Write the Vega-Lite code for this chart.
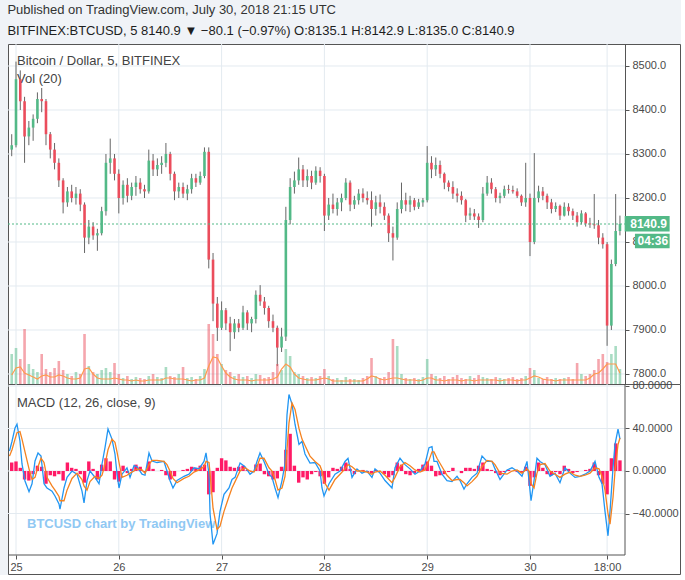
{
"$schema": "https://vega.github.io/schema/vega-lite/v6.json",
"background": "#f0f3f7",
"padding": {"left": 6, "top": 4, "right": 0, "bottom": 0},
"bounds": "flush",
"title": {
  "text": "Published on TradingView.com, July 30, 2018 21:15 UTC",
  "subtitle": "BITFINEX:BTCUSD, 5 8140.9 ▼ −80.1 (−0.97%) O:8135.1 H:8142.9 L:8135.0 C:8140.9",
  "anchor": "start", "font": "Liberation Sans", "fontSize": 13, "fontWeight": "normal", "color": "#333333",
  "subtitleFont": "Liberation Sans", "subtitleFontSize": 13, "subtitleColor": "#1e1e1e", "subtitlePadding": 8,
  "offset": 5, "dx": 1
},
"config": {
  "font": "Liberation Sans",
  "view": {"stroke": "#555555", "strokeWidth": 1, "fill": "#ffffff"},
  "scale": {"continuousPadding": 0},
  "axis": {"labelFont": "Liberation Sans", "labelFontSize": 11, "labelColor": "#4a4a4a", "tickColor": "#555555", "tickSize": 4, "domainColor": "#555555", "grid": false, "labelPadding": 3, "labelFlush": false, "title": null}
},
"datasets": {
"c": [
{"h":-1,"o":8310,"hi":8345,"lo":8295,"c":8320,"v":300,"va":90,"d":8},
{"h":0,"o":8320,"hi":8510,"lo":8315,"c":8470,"v":360,"va":160,"d":9},
{"h":1,"o":8470,"hi":8490,"lo":8400,"c":8420,"v":250,"va":170,"d":3},
{"h":2,"o":8420,"hi":8430,"lo":8280,"c":8340,"v":550,"va":110,"d":-8},
{"h":3,"o":8340,"hi":8375,"lo":8320,"c":8360,"v":200,"va":90,"d":-9},
{"h":4,"o":8360,"hi":8390,"lo":8330,"c":8380,"v":150,"va":70,"d":-3},
{"h":5,"o":8380,"hi":8440,"lo":8370,"c":8425,"v":120,"va":50,"d":5},
{"h":6,"o":8425,"hi":8450,"lo":8395,"c":8420,"v":300,"va":80,"d":4},
{"h":7,"o":8420,"hi":8425,"lo":8320,"c":8345,"v":150,"va":90,"d":-12},
{"h":8,"o":8345,"hi":8350,"lo":8290,"c":8310,"v":120,"va":70,"d":-4},
{"h":9,"o":8310,"hi":8325,"lo":8265,"c":8280,"v":160,"va":70,"d":-5},
{"h":10,"o":8280,"hi":8290,"lo":8225,"c":8240,"v":230,"va":90,"d":-3},
{"h":11,"o":8240,"hi":8245,"lo":8165,"c":8190,"v":140,"va":80,"d":-9},
{"h":12,"o":8190,"hi":8225,"lo":8180,"c":8215,"v":100,"va":60,"d":8},
{"h":13,"o":8215,"hi":8230,"lo":8190,"c":8200,"v":80,"va":50,"d":3},
{"h":14,"o":8200,"hi":8225,"lo":8185,"c":8210,"v":120,"va":50,"d":2},
{"h":15,"o":8210,"hi":8220,"lo":8170,"c":8185,"v":100,"va":60,"d":-3},
{"h":16,"o":8185,"hi":8190,"lo":8075,"c":8110,"v":500,"va":150,"d":-11},
{"h":17,"o":8110,"hi":8150,"lo":8095,"c":8135,"v":180,"va":160,"d":9},
{"h":18,"o":8135,"hi":8145,"lo":8105,"c":8115,"v":120,"va":100,"d":2},
{"h":19,"o":8115,"hi":8130,"lo":8080,"c":8120,"v":100,"va":60,"d":-8},
{"h":20,"o":8120,"hi":8180,"lo":8115,"c":8170,"v":140,"va":50,"d":6},
{"h":21,"o":8170,"hi":8300,"lo":8160,"c":8280,"v":160,"va":50,"d":12},
{"h":22,"o":8280,"hi":8335,"lo":8255,"c":8290,"v":120,"va":50,"d":9},
{"h":23,"o":8290,"hi":8300,"lo":8240,"c":8255,"v":210,"va":60,"d":-8},
{"h":24,"o":8255,"hi":8265,"lo":8165,"c":8200,"v":100,"va":50,"d":-10},
{"h":25,"o":8200,"hi":8240,"lo":8185,"c":8230,"v":60,"va":40,"d":5},
{"h":26,"o":8230,"hi":8245,"lo":8190,"c":8205,"v":80,"va":40,"d":-2},
{"h":27,"o":8205,"hi":8235,"lo":8195,"c":8225,"v":50,"va":30,"d":2},
{"h":28,"o":8225,"hi":8250,"lo":8205,"c":8235,"v":70,"va":40,"d":6},
{"h":29,"o":8235,"hi":8245,"lo":8210,"c":8220,"v":60,"va":30,"d":4},
{"h":30,"o":8220,"hi":8230,"lo":8200,"c":8215,"v":50,"va":30,"d":-1},
{"h":31,"o":8215,"hi":8310,"lo":8210,"c":8285,"v":80,"va":40,"d":9},
{"h":32,"o":8285,"hi":8300,"lo":8250,"c":8265,"v":100,"va":40,"d":2},
{"h":33,"o":8265,"hi":8290,"lo":8250,"c":8275,"v":70,"va":40,"d":0},
{"h":34,"o":8275,"hi":8295,"lo":8255,"c":8280,"v":60,"va":40,"d":1},
{"h":35,"o":8280,"hi":8325,"lo":8270,"c":8300,"v":170,"va":60,"d":-4},
{"h":36,"o":8300,"hi":8305,"lo":8240,"c":8255,"v":80,"va":60,"d":-8},
{"h":37,"o":8255,"hi":8260,"lo":8195,"c":8215,"v":70,"va":50,"d":-5},
{"h":38,"o":8215,"hi":8235,"lo":8200,"c":8225,"v":100,"va":50,"d":0},
{"h":39,"o":8225,"hi":8235,"lo":8200,"c":8210,"v":170,"va":50,"d":1},
{"h":40,"o":8210,"hi":8230,"lo":8195,"c":8220,"v":60,"va":40,"d":2},
{"h":41,"o":8220,"hi":8255,"lo":8210,"c":8245,"v":70,"va":30,"d":4},
{"h":42,"o":8245,"hi":8255,"lo":8225,"c":8235,"v":50,"va":40,"d":3},
{"h":43,"o":8235,"hi":8260,"lo":8230,"c":8250,"v":80,"va":40,"d":5},
{"h":44,"o":8250,"hi":8315,"lo":8245,"c":8305,"v":150,"va":60,"d":6},
{"h":45,"o":8305,"hi":8315,"lo":8040,"c":8060,"v":600,"va":180,"d":-22},
{"h":46,"o":8060,"hi":8075,"lo":7920,"c":7960,"v":500,"va":270,"d":-20},
{"h":47,"o":7960,"hi":7975,"lo":7875,"c":7905,"v":300,"va":260,"d":3},
{"h":48,"o":7905,"hi":7965,"lo":7900,"c":7945,"v":200,"va":180,"d":12},
{"h":49,"o":7945,"hi":7950,"lo":7900,"c":7915,"v":140,"va":110,"d":10},
{"h":50,"o":7915,"hi":7930,"lo":7852,"c":7895,"v":120,"va":70,"d":4},
{"h":51,"o":7895,"hi":7925,"lo":7880,"c":7915,"v":80,"va":50,"d":3},
{"h":52,"o":7915,"hi":7925,"lo":7895,"c":7905,"v":100,"va":40,"d":4},
{"h":53,"o":7905,"hi":7955,"lo":7900,"c":7940,"v":70,"va":40,"d":5},
{"h":54,"o":7940,"hi":7945,"lo":7900,"c":7915,"v":80,"va":40,"d":1},
{"h":55,"o":7915,"hi":7930,"lo":7895,"c":7925,"v":60,"va":30,"d":-1},
{"h":56,"o":7925,"hi":7990,"lo":7915,"c":7980,"v":100,"va":40,"d":6},
{"h":57,"o":7980,"hi":8002,"lo":7955,"c":7965,"v":90,"va":40,"d":7},
{"h":58,"o":7965,"hi":7975,"lo":7935,"c":7950,"v":60,"va":40,"d":-3},
{"h":59,"o":7950,"hi":7955,"lo":7905,"c":7920,"v":70,"va":40,"d":-5},
{"h":60,"o":7920,"hi":7935,"lo":7895,"c":7905,"v":120,"va":50,"d":-8},
{"h":61,"o":7905,"hi":7910,"lo":7818,"c":7860,"v":200,"va":70,"d":-7},
{"h":62,"o":7860,"hi":7905,"lo":7850,"c":7885,"v":140,"va":150,"d":4},
{"h":63,"o":7885,"hi":8180,"lo":7875,"c":8150,"v":350,"va":200,"d":20},
{"h":64,"o":8150,"hi":8245,"lo":8140,"c":8225,"v":280,"va":170,"d":35},
{"h":65,"o":8225,"hi":8260,"lo":8210,"c":8240,"v":120,"va":100,"d":5},
{"h":66,"o":8240,"hi":8292,"lo":8230,"c":8265,"v":100,"va":60,"d":-11},
{"h":67,"o":8265,"hi":8275,"lo":8225,"c":8240,"v":80,"va":50,"d":-6},
{"h":68,"o":8240,"hi":8265,"lo":8225,"c":8250,"v":60,"va":40,"d":-8},
{"h":69,"o":8250,"hi":8262,"lo":8220,"c":8235,"v":70,"va":40,"d":-3},
{"h":70,"o":8235,"hi":8272,"lo":8230,"c":8262,"v":60,"va":40,"d":-1},
{"h":71,"o":8262,"hi":8270,"lo":8235,"c":8250,"v":80,"va":50,"d":-5},
{"h":72,"o":8250,"hi":8255,"lo":8125,"c":8160,"v":150,"va":60,"d":-12},
{"h":73,"o":8160,"hi":8200,"lo":8150,"c":8185,"v":80,"va":50,"d":-6},
{"h":74,"o":8185,"hi":8210,"lo":8165,"c":8175,"v":50,"va":30,"d":3},
{"h":75,"o":8175,"hi":8200,"lo":8160,"c":8190,"v":60,"va":30,"d":2},
{"h":76,"o":8190,"hi":8210,"lo":8170,"c":8200,"v":40,"va":30,"d":4},
{"h":77,"o":8200,"hi":8245,"lo":8195,"c":8235,"v":70,"va":30,"d":8},
{"h":78,"o":8235,"hi":8240,"lo":8170,"c":8185,"v":50,"va":30,"d":2},
{"h":79,"o":8185,"hi":8205,"lo":8175,"c":8195,"v":50,"va":30,"d":-3},
{"h":80,"o":8195,"hi":8220,"lo":8185,"c":8210,"v":40,"va":30,"d":0},
{"h":81,"o":8210,"hi":8222,"lo":8190,"c":8200,"v":60,"va":30,"d":1},
{"h":82,"o":8200,"hi":8215,"lo":8185,"c":8195,"v":80,"va":50,"d":-1},
{"h":83,"o":8195,"hi":8215,"lo":8135,"c":8175,"v":260,"va":80,"d":-2},
{"h":84,"o":8175,"hi":8205,"lo":8160,"c":8190,"v":80,"va":70,"d":1},
{"h":85,"o":8190,"hi":8208,"lo":8165,"c":8180,"v":60,"va":50,"d":0},
{"h":86,"o":8180,"hi":8190,"lo":8150,"c":8160,"v":70,"va":40,"d":-3},
{"h":87,"o":8160,"hi":8165,"lo":8100,"c":8120,"v":120,"va":50,"d":-6},
{"h":88,"o":8120,"hi":8135,"lo":8058,"c":8110,"v":450,"va":60,"d":-4},
{"h":89,"o":8110,"hi":8190,"lo":8105,"c":8175,"v":380,"va":60,"d":8},
{"h":90,"o":8175,"hi":8235,"lo":8165,"c":8195,"v":100,"va":50,"d":6},
{"h":91,"o":8195,"hi":8212,"lo":8170,"c":8185,"v":60,"va":40,"d":-3},
{"h":92,"o":8185,"hi":8205,"lo":8168,"c":8195,"v":50,"va":40,"d":-4},
{"h":93,"o":8195,"hi":8200,"lo":8172,"c":8180,"v":60,"va":40,"d":-2},
{"h":94,"o":8180,"hi":8198,"lo":8175,"c":8190,"v":50,"va":30,"d":2},
{"h":95,"o":8190,"hi":8200,"lo":8180,"c":8195,"v":70,"va":40,"d":6},
{"h":96,"o":8195,"hi":8318,"lo":8190,"c":8280,"v":250,"va":60,"d":9},
{"h":97,"o":8280,"hi":8295,"lo":8245,"c":8265,"v":100,"va":60,"d":5},
{"h":98,"o":8265,"hi":8292,"lo":8250,"c":8275,"v":80,"va":40,"d":-5},
{"h":99,"o":8275,"hi":8285,"lo":8245,"c":8255,"v":60,"va":40,"d":-4},
{"h":100,"o":8255,"hi":8258,"lo":8220,"c":8235,"v":80,"va":30,"d":-3},
{"h":101,"o":8235,"hi":8240,"lo":8215,"c":8225,"v":50,"va":40,"d":-1},
{"h":102,"o":8225,"hi":8238,"lo":8198,"c":8210,"v":70,"va":40,"d":3},
{"h":103,"o":8210,"hi":8222,"lo":8190,"c":8205,"v":90,"va":40,"d":0},
{"h":104,"o":8205,"hi":8215,"lo":8185,"c":8195,"v":60,"va":30,"d":-2},
{"h":105,"o":8195,"hi":8198,"lo":8145,"c":8160,"v":50,"va":40,"d":3},
{"h":106,"o":8160,"hi":8178,"lo":8150,"c":8165,"v":80,"va":40,"d":3},
{"h":107,"o":8165,"hi":8175,"lo":8150,"c":8158,"v":60,"va":30,"d":2},
{"h":108,"o":8158,"hi":8165,"lo":8132,"c":8150,"v":90,"va":40,"d":5},
{"h":109,"o":8150,"hi":8225,"lo":8145,"c":8210,"v":70,"va":40,"d":8},
{"h":110,"o":8210,"hi":8250,"lo":8205,"c":8235,"v":60,"va":40,"d":2},
{"h":111,"o":8235,"hi":8245,"lo":8210,"c":8220,"v":50,"va":40,"d":1},
{"h":112,"o":8220,"hi":8225,"lo":8190,"c":8200,"v":70,"va":40,"d":-2},
{"h":113,"o":8200,"hi":8212,"lo":8188,"c":8205,"v":60,"va":30,"d":-4},
{"h":114,"o":8205,"hi":8228,"lo":8200,"c":8220,"v":50,"va":40,"d":-1},
{"h":115,"o":8220,"hi":8230,"lo":8210,"c":8218,"v":60,"va":40,"d":1},
{"h":116,"o":8218,"hi":8228,"lo":8210,"c":8215,"v":70,"va":40,"d":0},
{"h":117,"o":8215,"hi":8222,"lo":8200,"c":8205,"v":50,"va":30,"d":-1},
{"h":118,"o":8205,"hi":8208,"lo":8182,"c":8190,"v":60,"va":40,"d":-2},
{"h":119,"o":8190,"hi":8280,"lo":8180,"c":8200,"v":80,"va":40,"d":4},
{"h":120,"o":8200,"hi":8210,"lo":8068,"c":8100,"v":160,"va":60,"d":-14},
{"h":121,"o":8100,"hi":8302,"lo":8095,"c":8200,"v":140,"va":80,"d":-6},
{"h":122,"o":8200,"hi":8228,"lo":8190,"c":8215,"v":60,"va":70,"d":8},
{"h":123,"o":8215,"hi":8225,"lo":8195,"c":8205,"v":50,"va":50,"d":3},
{"h":124,"o":8205,"hi":8210,"lo":8175,"c":8190,"v":70,"va":40,"d":-3},
{"h":125,"o":8190,"hi":8198,"lo":8165,"c":8175,"v":50,"va":40,"d":-4},
{"h":126,"o":8175,"hi":8190,"lo":8168,"c":8182,"v":60,"va":30,"d":-1},
{"h":127,"o":8182,"hi":8185,"lo":8150,"c":8160,"v":50,"va":40,"d":-3},
{"h":128,"o":8160,"hi":8190,"lo":8158,"c":8180,"v":60,"va":40,"d":5},
{"h":129,"o":8180,"hi":8188,"lo":8160,"c":8170,"v":70,"va":40,"d":2},
{"h":130,"o":8170,"hi":8176,"lo":8150,"c":8160,"v":50,"va":40,"d":-2},
{"h":131,"o":8160,"hi":8168,"lo":8135,"c":8145,"v":210,"va":40,"d":-1},
{"h":132,"o":8145,"hi":8172,"lo":8140,"c":8165,"v":100,"va":40,"d":0},
{"h":133,"o":8165,"hi":8168,"lo":8135,"c":8142,"v":80,"va":40,"d":1},
{"h":134,"o":8142,"hi":8155,"lo":8132,"c":8140,"v":100,"va":60,"d":2},
{"h":135,"o":8140,"hi":8209,"lo":8130,"c":8138,"v":140,"va":100,"d":8},
{"h":136,"o":8138,"hi":8150,"lo":8095,"c":8110,"v":250,"va":110,"d":-4},
{"h":137,"o":8110,"hi":8120,"lo":8085,"c":8095,"v":300,"va":150,"d":-12},
{"h":138,"o":8095,"hi":8100,"lo":7864,"c":7910,"v":220,"va":200,"d":-22},
{"h":139,"o":7910,"hi":8060,"lo":7900,"c":8050,"v":300,"va":200,"d":12},
{"h":140,"o":8050,"hi":8209,"lo":8045,"c":8125,"v":380,"va":200,"d":26},
{"h":141,"o":8125,"hi":8160,"lo":8115,"c":8140.9,"v":150,"va":110,"d":10}
],
"mc": [
{"h":-1.52,"m":18.8,"s":14},{"h":-0.93,"m":28,"s":20},{"h":-0.23,"m":40.5,"s":30},{"h":0.23,"m":44,"s":36},
{"h":0.93,"m":28,"s":37},{"h":1.4,"m":6.6,"s":30},{"h":2.1,"m":-9.4,"s":18},{"h":3.04,"m":-19.5,"s":2},
{"h":3.74,"m":-12,"s":-8},{"h":4.44,"m":9.4,"s":-6},{"h":5.14,"m":17,"s":4},{"h":5.84,"m":14,"s":12},
{"h":6.54,"m":-12,"s":8},{"h":7.24,"m":-16,"s":-6},{"h":8.4,"m":-19,"s":-14},{"h":9.1,"m":-23.5,"s":-18},
{"h":10.04,"m":-31,"s":-24},{"h":10.27,"m":-36,"s":-28},{"h":11.21,"m":-16,"s":-28},{"h":11.91,"m":-6,"s":-18},
{"h":13.07,"m":0,"s":-7},{"h":14.24,"m":-3,"s":-2},{"h":15.41,"m":-19,"s":-8},{"h":15.88,"m":-30,"s":-14},
{"h":16.58,"m":-9,"s":-18},{"h":17.28,"m":0,"s":-10},{"h":18.44,"m":-6,"s":-5},{"h":19.38,"m":-12,"s":-7},
{"h":20.08,"m":6.6,"s":-4},{"h":20.78,"m":22,"s":6},{"h":21.48,"m":39.5,"s":20},{"h":22.41,"m":30,"s":30},
{"h":23.11,"m":16,"s":27},{"h":23.58,"m":-3,"s":18},{"h":24.05,"m":-16,"s":8},{"h":24.75,"m":-3,"s":-6},
{"h":25.91,"m":3,"s":-4},{"h":26.62,"m":-6,"s":-2},{"h":27.55,"m":5,"s":0},{"h":28.25,"m":4,"s":2},
{"h":29.42,"m":-3,"s":1},{"h":30.12,"m":-4,"s":-2},{"h":31.05,"m":17,"s":6},{"h":31.75,"m":9.4,"s":10},
{"h":32.92,"m":8,"s":10},{"h":34.55,"m":9,"s":9},{"h":35.25,"m":0,"s":6},{"h":35.95,"m":-9,"s":0},
{"h":36.65,"m":-16,"s":-7},{"h":37.59,"m":-9,"s":-11},{"h":39.22,"m":-5,"s":-7},{"h":40.39,"m":-3,"s":-5},
{"h":41.56,"m":3,"s":-1},{"h":42.72,"m":2,"s":1},{"h":43.89,"m":9,"s":4},{"h":44.36,"m":17,"s":9},
{"h":45.06,"m":-3,"s":8},{"h":45.3,"m":-40,"s":-2},{"h":46,"m":-69,"s":-35},{"h":46.93,"m":-59,"s":-55},
{"h":47.63,"m":-38,"s":-52},{"h":48.56,"m":-22,"s":-38},{"h":49.73,"m":-16,"s":-24},{"h":50.43,"m":-8,"s":-16},
{"h":51.14,"m":-6,"s":-10},{"h":52.31,"m":7.5,"s":0},{"h":53.46,"m":4,"s":3},{"h":54.63,"m":-3,"s":0},
{"h":55.56,"m":0,"s":-1},{"h":56.26,"m":9,"s":4},{"h":56.96,"m":17,"s":12},{"h":57.9,"m":9,"s":12},
{"h":59.07,"m":-3,"s":3},{"h":59.77,"m":-6,"s":0},{"h":60.47,"m":-16,"s":-8},{"h":61.17,"m":-25,"s":-18},
{"h":62.1,"m":-9,"s":-16},{"h":62.8,"m":6.6,"s":-5},{"h":63.27,"m":53,"s":20},{"h":63.73,"m":72,"s":45},
{"h":64.44,"m":63,"s":64},{"h":65.14,"m":44,"s":58},{"h":66.07,"m":25,"s":40},{"h":66.77,"m":28,"s":30},
{"h":67.47,"m":16,"s":24},{"h":68.64,"m":7.5,"s":14},{"h":69.81,"m":8,"s":9},{"h":70.97,"m":0,"s":5},
{"h":71.44,"m":-16,"s":0},{"h":71.91,"m":-23.5,"s":-10},{"h":73.08,"m":-12,"s":-18},{"h":74.48,"m":-3,"s":-8},
{"h":75.65,"m":0,"s":-3},{"h":76.81,"m":9,"s":2},{"h":77.51,"m":12,"s":6},{"h":78.45,"m":-6,"s":4},
{"h":79.61,"m":2,"s":0},{"h":80.78,"m":-2,"s":0},{"h":81.94,"m":0,"s":-1},{"h":83.11,"m":-6,"s":-3},
{"h":83.81,"m":2,"s":-1},{"h":84.98,"m":-2,"s":0},{"h":86.15,"m":-9,"s":-4},{"h":87.78,"m":-16,"s":-11},
{"h":88.48,"m":3,"s":-6},{"h":89.65,"m":12,"s":4},{"h":90.82,"m":6,"s":8},{"h":91.98,"m":2,"s":5},
{"h":93.15,"m":-3,"s":1},{"h":94.32,"m":0,"s":-1},{"h":95.49,"m":6.6,"s":1},{"h":96.42,"m":22,"s":10},
{"h":97.12,"m":23,"s":18},{"h":97.59,"m":9,"s":18},{"h":98.29,"m":9,"s":12},{"h":99.46,"m":-3,"s":4},
{"h":100.62,"m":-9,"s":-4},{"h":101.79,"m":-10,"s":-9},{"h":102.96,"m":-5,"s":-8},{"h":103.66,"m":-9,"s":-8},
{"h":104.59,"m":-17,"s":-11},{"h":105.29,"m":-12,"s":-14},{"h":106.46,"m":-6,"s":-10},{"h":107.63,"m":-2,"s":-5},
{"h":108.8,"m":14,"s":4},{"h":109.96,"m":9,"s":10},{"h":111.13,"m":9,"s":9},{"h":111.83,"m":2,"s":6},
{"h":113,"m":-8,"s":-2},{"h":114.63,"m":1,"s":-3},{"h":115.8,"m":3,"s":0},{"h":116.96,"m":0,"s":1},
{"h":118.13,"m":-5,"s":-2},{"h":119.3,"m":9,"s":2},{"h":119.77,"m":-9,"s":0},{"h":120.24,"m":-28,"s":-12},
{"h":120.94,"m":-9,"s":-16},{"h":121.63,"m":12,"s":-2},{"h":122.34,"m":9,"s":6},{"h":123.5,"m":6,"s":7},
{"h":124.67,"m":-5,"s":0},{"h":125.84,"m":-2,"s":-3},{"h":127,"m":-11,"s":-6},{"h":128.17,"m":3,"s":-3},
{"h":129.34,"m":-2,"s":-1},{"h":130.51,"m":-6,"s":-4},{"h":131.68,"m":-5,"s":-5},{"h":132.84,"m":-3,"s":-4},
{"h":134.01,"m":0,"s":-2},{"h":135.18,"m":9,"s":3},{"h":136.11,"m":-6,"s":2},{"h":136.81,"m":-12,"s":-5},
{"h":137.51,"m":-38,"s":-18},{"h":138.21,"m":-61,"s":-40},{"h":138.68,"m":-38,"s":-50},{"h":139.38,"m":3,"s":-25},
{"h":139.85,"m":25,"s":0},{"h":140.55,"m":39.5,"s":25},{"h":141.01,"m":30,"s":31}
]
},
"spacing": 0,
"vconcat": [
{
  "width": 672, "height": 340,
  "data": {"name": "c"},
  "resolve": {"scale": {"y": "independent"}},
  "layer": [
    {
      "layer": [
        {
          "data": {"values": [{"p":7800},{"p":7900},{"p":8000},{"p":8100},{"p":8200},{"p":8300},{"p":8400},{"p":8500}]},
          "mark": {"type": "rule", "color": "#e3eaf0", "strokeWidth": 1},
          "encoding": {
            "y": {"field": "p", "type": "quantitative", "scale": {"domain": [7777.27, 8550], "nice": false, "zero": false},
                  "axis": {"orient": "right", "offset": -55, "values": [7800,7900,8000,8100,8200,8300,8400,8500], "format": ".1f", "title": null, "domain": true, "ticks": true}},
            "x": {"datum": -1.868, "type": "quantitative", "scale": {"domain": [-1.868, 155.02], "nice": false, "zero": false, "padding": 0}, "axis": null},
            "x2": {"datum": 142.18}
          }
        },
        {
          "data": {"values": [{"g":0},{"g":24},{"g":48},{"g":72},{"g":96},{"g":120},{"g":138}]},
          "mark": {"type": "rule", "color": "#e3eaf0", "strokeWidth": 1},
          "encoding": {"x": {"field": "g", "type": "quantitative", "axis": null}}
        },
        {
          "data": {"values": [{"t": "Bitcoin / Dollar, 5, BITFINEX", "k": 8511}, {"t": "Vol (20)", "k": 8470}]},
          "mark": {"type": "text", "align": "left", "baseline": "middle", "fontSize": 13, "color": "#434343"},
          "encoding": {
            "x": {"datum": 0.23, "type": "quantitative", "axis": null},
            "y": {"field": "k", "type": "quantitative"},
            "text": {"field": "t"}
          }
        },
        {
          "mark": {"type": "rule", "color": "#666666", "strokeWidth": 1},
          "encoding": {
            "x": {"field": "h", "type": "quantitative", "axis": null},
            "y": {"field": "lo", "type": "quantitative"},
            "y2": {"field": "hi"}
          }
        },
        {
          "mark": {"type": "bar", "size": 2.6},
          "encoding": {
            "x": {"field": "h", "type": "quantitative", "axis": null},
            "y": {"field": "o", "type": "quantitative"},
            "y2": {"field": "c"},
            "color": {"condition": {"test": "datum.c >= datum.o", "value": "#53b987"}, "value": "#eb4d5c"}
          }
        },
        {
          "data": {"values": [{"p": 8140.9}]},
          "mark": {"type": "rule", "color": "#53b987", "strokeDash": [2, 2], "strokeWidth": 1},
          "encoding": {
            "y": {"field": "p", "type": "quantitative"},
            "x": {"datum": -1.868, "type": "quantitative", "axis": null},
            "x2": {"datum": 142.18}
          }
        },
        {
          "data": {"values": [{"t": "box", "k": 8124, "k2": 8159}]},
          "mark": {"type": "rect", "color": "#53b987"},
          "encoding": {
            "x": {"datum": 142.1, "type": "quantitative", "axis": null},
            "x2": {"datum": 152.6},
            "y": {"field": "k", "type": "quantitative"},
            "y2": {"field": "k2"}
          }
        },
        {
          "data": {"values": [{"t": "box", "k": 8086, "k2": 8119}]},
          "mark": {"type": "rect", "color": "#53b987"},
          "encoding": {
            "x": {"datum": 144.5, "type": "quantitative", "axis": null},
            "x2": {"datum": 152.6},
            "y": {"field": "k", "type": "quantitative"},
            "y2": {"field": "k2"}
          }
        },
        {
          "data": {"values": [{"t": "8140.9", "k": 8140.9}]},
          "mark": {"type": "text", "align": "left", "baseline": "middle", "fontSize": 12, "fontWeight": "bold", "color": "#ffffff"},
          "encoding": {
            "x": {"datum": 143.4, "type": "quantitative", "axis": null},
            "y": {"field": "k", "type": "quantitative"},
            "text": {"field": "t"}
          }
        },
        {
          "data": {"values": [{"t": "04:36", "k": 8102}]},
          "mark": {"type": "text", "align": "left", "baseline": "middle", "fontSize": 12, "fontWeight": "bold", "color": "#ffffff"},
          "encoding": {
            "x": {"datum": 145.1, "type": "quantitative", "axis": null},
            "y": {"field": "k", "type": "quantitative"},
            "text": {"field": "t"}
          }
        }
      ]
    },
    {
      "layer": [
        {
          "mark": {"type": "bar", "size": 2.6, "opacity": 0.5},
          "encoding": {
            "x": {"field": "h", "type": "quantitative", "axis": null},
            "y": {"field": "v", "type": "quantitative", "scale": {"domain": [0, 3400], "nice": false}, "axis": null},
            "color": {"condition": {"test": "datum.c >= datum.o", "value": "#53b987"}, "value": "#eb4d5c"}
          }
        },
        {
          "mark": {"type": "line", "color": "#ff9a4d", "strokeWidth": 1.2},
          "encoding": {
            "x": {"field": "h", "type": "quantitative", "axis": null},
            "y": {"field": "va", "type": "quantitative", "axis": null}
          }
        }
      ]
    }
  ]
},
{
  "width": 672, "height": 190,
  "data": {"name": "c"},
  "layer": [
    {
      "data": {"values": [{"m":-40},{"m":0},{"m":40},{"m":80}]},
      "mark": {"type": "rule", "color": "#e3eaf0", "strokeWidth": 1},
      "encoding": {
        "y": {"field": "m", "type": "quantitative", "scale": {"domain": [-96.94, 81.88], "nice": false, "zero": false},
              "axis": {"orient": "right", "offset": -55, "values": [-40, 0, 40, 80], "format": ".4f", "title": null, "domain": false, "ticks": true}},
        "x": {"datum": -1.868, "type": "quantitative", "scale": {"domain": [-1.868, 155.02], "nice": false, "zero": false, "padding": 0}},
        "x2": {"datum": 142.18}
      }
    },
    {
      "data": {"values": [{"g":0},{"g":24},{"g":48},{"g":72},{"g":96},{"g":120},{"g":138}]},
      "mark": {"type": "rule", "color": "#e3eaf0", "strokeWidth": 1},
      "encoding": {
        "x": {"field": "g", "type": "quantitative",
              "axis": {"orient": "bottom", "offset": -19, "values": [0, 24, 48, 72, 96, 120, 138], "labelExpr": "datum.value == 138 ? '18:00' : '' + (25 + datum.value / 24)", "title": null, "domain": false, "ticks": true, "labelPadding": 2}},
        "y": {"datum": 81.88, "type": "quantitative"},
        "y2": {"datum": -79.06}
      }
    },
    {
      "data": {"values": [{"t": "MACD (12, 26, close, 9)", "k": 64}]},
      "mark": {"type": "text", "align": "left", "baseline": "middle", "fontSize": 13, "color": "#434343"},
      "encoding": {
        "x": {"datum": 0.23, "type": "quantitative"},
        "y": {"field": "k", "type": "quantitative"},
        "text": {"field": "t"}
      }
    },
    {
      "data": {"values": [{"t": "BTCUSD chart by TradingView", "k": -50}]},
      "mark": {"type": "text", "align": "left", "baseline": "middle", "fontSize": 13, "fontWeight": "bold", "color": "#90c8f3"},
      "encoding": {
        "x": {"datum": 2.57, "type": "quantitative"},
        "y": {"field": "k", "type": "quantitative"},
        "text": {"field": "t"}
      }
    },
    {
      "mark": {"type": "bar", "size": 3.4, "color": "#ff1a66"},
      "encoding": {
        "x": {"field": "h", "type": "quantitative"},
        "y": {"field": "d", "type": "quantitative"}
      }
    },
    {
      "data": {"name": "mc"},
      "mark": {"type": "line", "color": "#2196f3", "strokeWidth": 1.3},
      "encoding": {
        "x": {"field": "h", "type": "quantitative"},
        "y": {"field": "m", "type": "quantitative"}
      }
    },
    {
      "data": {"name": "mc"},
      "mark": {"type": "line", "color": "#f5821f", "strokeWidth": 1.3},
      "encoding": {
        "x": {"field": "h", "type": "quantitative"},
        "y": {"field": "s", "type": "quantitative"}
      }
    },
    {
      "data": {"values": [{"t": "axis", "k": 81.88, "k2": -79.06}]},
      "mark": {"type": "rule", "color": "#555555", "strokeWidth": 1},
      "encoding": {
        "x": {"datum": 142.18, "type": "quantitative"},
        "y": {"field": "k", "type": "quantitative"},
        "y2": {"field": "k2"}
      }
    },
    {
      "data": {"values": [{"t": "axis", "k": -79.06}]},
      "mark": {"type": "rule", "color": "#555555", "strokeWidth": 1},
      "encoding": {
        "y": {"field": "k", "type": "quantitative"},
        "x": {"datum": -1.868, "type": "quantitative"},
        "x2": {"datum": 142.18}
      }
    }
  ]
}
]
}
